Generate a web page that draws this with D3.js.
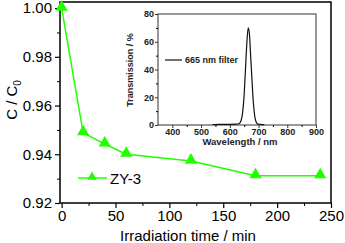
<!DOCTYPE html>
<html>
<head>
<meta charset="utf-8">
<script src="https://cdn.jsdelivr.net/npm/d3@7/dist/d3.min.js"></script>
<style>
  body { margin: 0; background: #fff; }
  svg { display: block; font-family: "Liberation Sans", Arial, sans-serif; }
</style>
</head>
<body>
<script>
// main series: irradiation time vs C/C0
var times = [0, 20, 40, 60, 120, 180, 240];
var ratio = [1.000, 0.9488, 0.9442, 0.9400, 0.9372, 0.9312, 0.9312];
var seriesName = "ZY-3";
var xTicks = [0, 50, 100, 150, 200, 250];
var yTicks = [0.92, 0.94, 0.96, 0.98, 1.00];

// inset: filter transmission spectrum
var wavelength = [540, 560, 580, 600, 620, 632, 638, 644, 649, 654, 659, 664, 668, 672, 677, 682, 687, 692, 697, 705, 720];
var transmission = [0.3, 0.4, 0.5, 0.5, 0.6, 0.9, 2.5, 8, 19, 38, 58, 70, 66, 52, 33, 16, 6, 2, 0.8, 0.5, 0.3];
var insetName = "665 nm filter";
var insetXTicks = [400, 500, 600, 700, 800, 900];
var insetYTicks = [0, 20, 40, 60, 80];

var width = 345, height = 243;

var svg = d3.select("body").append("svg")
    .attr("width", width)
    .attr("height", height);

// scales
var x = d3.scaleLinear().domain([-1.5, 250]).range([60, 331]);
var y = d3.scaleLinear().domain([0.92, 1.0025]).range([203, 2]);

// frame
svg.append("rect")
    .attr("x", x.range()[0]).attr("y", y.range()[1])
    .attr("width", x.range()[1] - x.range()[0])
    .attr("height", y.range()[0] - y.range()[1])
    .attr("fill", "none").attr("stroke", "#000").attr("stroke-width", 1.5);

// minor ticks
svg.append("g")
    .attr("transform", "translate(0," + y.range()[0] + ")")
    .call(d3.axisBottom(x).tickValues(d3.range(25, 250, 50)).tickSize(3).tickFormat(""))
    .call(function(g) { g.select(".domain").remove(); });
svg.append("g")
    .attr("transform", "translate(" + x.range()[0] + ",0)")
    .call(d3.axisLeft(y).tickValues([0.93, 0.95, 0.97, 0.99]).tickSize(3).tickFormat(""))
    .call(function(g) { g.select(".domain").remove(); });

// major axes
var xAxis = svg.append("g")
    .attr("transform", "translate(0," + y.range()[0] + ")")
    .call(d3.axisBottom(x).tickValues(xTicks).tickSize(5).tickPadding(2));
var yAxis = svg.append("g")
    .attr("transform", "translate(" + x.range()[0] + ",0)")
    .call(d3.axisLeft(y).tickValues(yTicks).tickSize(5).tickPadding(3).tickFormat(d3.format(".2f")));

[xAxis, yAxis].forEach(function(a) {
  a.select(".domain").remove();
  a.selectAll("line").attr("stroke-width", 1.2);
  a.selectAll("text").attr("font-size", 15).attr("fill", "#000")
      .attr("font-family", "Liberation Sans, Arial, sans-serif");
});

// axis titles
svg.append("text")
    .attr("x", 188).attr("y", 241)
    .attr("text-anchor", "middle")
    .attr("font-size", 15)
    .text("Irradiation time / min");

var yt = svg.append("text")
    .attr("transform", "translate(17,100) rotate(-90)")
    .attr("text-anchor", "middle")
    .attr("font-size", 15);
yt.append("tspan").text("C / C");
yt.append("tspan").attr("font-size", 10).attr("dy", 4).text("0");

// data line + markers
var green = "#22ff00";
var line = d3.line()
    .x(function(d, i) { return x(times[i]); })
    .y(function(d) { return y(d); });

svg.append("path")
    .datum(ratio)
    .attr("fill", "none")
    .attr("stroke", green)
    .attr("stroke-width", 1.5)
    .attr("d", line);

var tri = d3.symbol().type(d3.symbolTriangle).size(65);
svg.selectAll(".pt")
    .data(ratio)
    .enter().append("path")
    .attr("class", "pt")
    .attr("transform", function(d, i) { return "translate(" + x(times[i]) + "," + (y(d) - 1) + ")"; })
    .attr("d", tri)
    .attr("fill", green);

// legend
svg.append("line")
    .attr("x1", 78).attr("x2", 107).attr("y1", 178).attr("y2", 178)
    .attr("stroke", green).attr("stroke-width", 1.5);
svg.append("path")
    .attr("transform", "translate(92,177)")
    .attr("d", d3.symbol().type(d3.symbolTriangle).size(40))
    .attr("fill", green);
svg.append("text")
    .attr("x", 110).attr("y", 184)
    .attr("font-size", 15)
    .text(seriesName);

// ---- inset ----
var ix = d3.scaleLinear().domain([350, 900]).range([158, 316]);
var iy = d3.scaleLinear().domain([0, 80]).range([125, 14]);

var inset = svg.append("g");

inset.append("rect")
    .attr("x", ix.range()[0]).attr("y", iy.range()[1])
    .attr("width", ix.range()[1] - ix.range()[0])
    .attr("height", iy.range()[0] - iy.range()[1])
    .attr("fill", "none").attr("stroke", "#333").attr("stroke-width", 1);

inset.append("g")
    .attr("transform", "translate(0," + iy.range()[0] + ")")
    .call(d3.axisBottom(ix).tickValues(d3.range(450, 900, 100)).tickSize(2).tickFormat(""))
    .call(function(g) { g.select(".domain").remove(); });
inset.append("g")
    .attr("transform", "translate(" + ix.range()[0] + ",0)")
    .call(d3.axisLeft(iy).tickValues(d3.range(10, 80, 20)).tickSize(2).tickFormat(""))
    .call(function(g) { g.select(".domain").remove(); });

var ixAxis = inset.append("g")
    .attr("transform", "translate(0," + iy.range()[0] + ")")
    .call(d3.axisBottom(ix).tickValues(insetXTicks).tickSize(3).tickPadding(1));
var iyAxis = inset.append("g")
    .attr("transform", "translate(" + ix.range()[0] + ",0)")
    .call(d3.axisLeft(iy).tickValues(insetYTicks).tickSize(3).tickPadding(1));

[ixAxis, iyAxis].forEach(function(a) {
  a.select(".domain").remove();
  a.selectAll("line").attr("stroke", "#333");
  a.selectAll("text").attr("font-size", 9).attr("font-weight", "bold").attr("fill", "#222")
      .attr("font-family", "Liberation Sans, Arial, sans-serif");
});

inset.append("text")
    .attr("x", 240).attr("y", 145)
    .attr("text-anchor", "middle")
    .attr("font-size", 9.5).attr("font-weight", "bold").attr("fill", "#222")
    .text("Wavelength / nm");
inset.append("text")
    .attr("transform", "translate(133,70) rotate(-90)")
    .attr("text-anchor", "middle")
    .attr("font-size", 9).attr("font-weight", "bold").attr("fill", "#222")
    .text("Transmission / %");

var iline = d3.line()
    .curve(d3.curveMonotoneX)
    .x(function(d, i) { return ix(wavelength[i]); })
    .y(function(d) { return iy(d); });

inset.append("path")
    .datum(transmission)
    .attr("fill", "none")
    .attr("stroke", "#111")
    .attr("stroke-width", 1.2)
    .attr("d", iline);

inset.append("line")
    .attr("x1", 165).attr("x2", 182).attr("y1", 60).attr("y2", 60)
    .attr("stroke", "#111").attr("stroke-width", 1.2);
inset.append("text")
    .attr("x", 185).attr("y", 63)
    .attr("font-size", 9).attr("font-weight", "bold").attr("fill", "#222")
    .text(insetName);
</script>
</body>
</html>
